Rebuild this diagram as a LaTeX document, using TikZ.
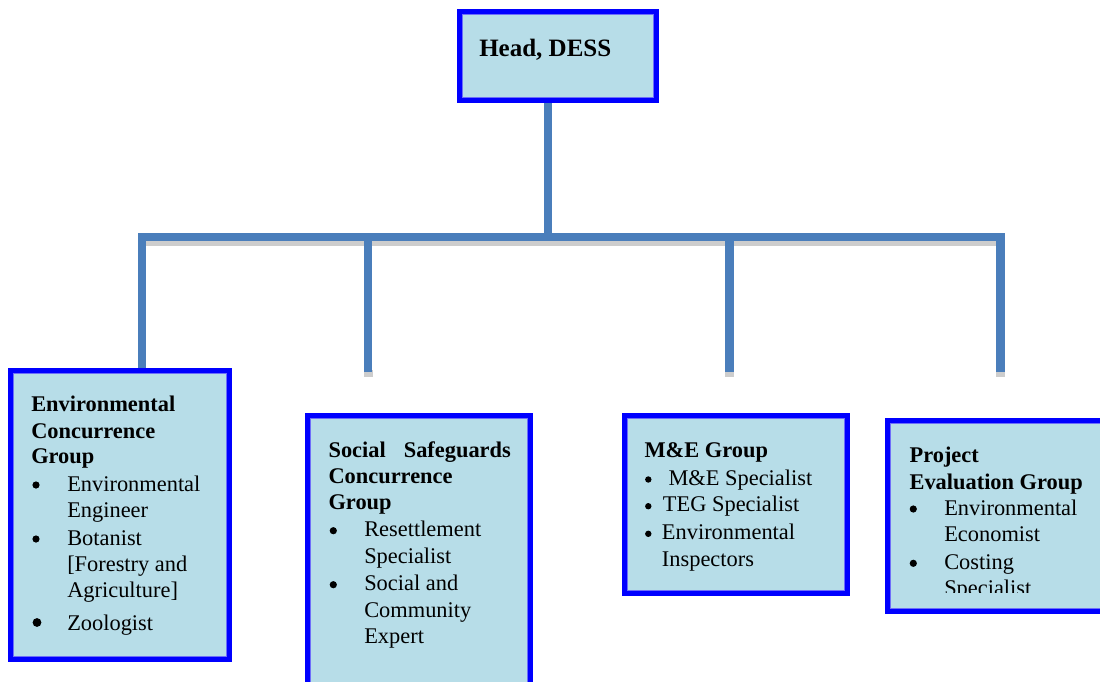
\documentclass[tikz,border=0pt]{standalone}
\usepackage{fontspec}
\setmainfont{Liberation Serif}
\definecolor{boxfill}{RGB}{183,221,232}
\definecolor{boxedge}{RGB}{0,0,255}
\definecolor{boxinner}{RGB}{110,110,250}
\definecolor{connblue}{RGB}{74,126,187}
\definecolor{shadowgray}{RGB}{205,205,205}
\newcommand\innerline[1]{\draw[boxinner,line width=0.6pt] ([xshift=4.3pt,yshift=-4.3pt]#1.north west) rectangle ([xshift=-4.3pt,yshift=4.3pt]#1.south east);}
\tikzset{
  box/.style={draw=boxedge, line width=4pt, fill=boxfill, rectangle, inner sep=0pt},
  ln/.style={inner sep=0pt, anchor=base west, font=\fontsize{16.8pt}{19.5pt}\selectfont},
  hl/.style={inner sep=0pt, anchor=base west, font=\fontsize{16.8pt}{19.5pt}\selectfont\bfseries},
  dot/.style={circle, fill=black, inner sep=0pt, minimum size=5.4pt},
  bigdot/.style={circle, fill=black, inner sep=0pt, minimum size=6.6pt},
  smalldot/.style={circle, fill=black, inner sep=0pt, minimum size=4.8pt},
  conn/.style={draw=connblue, line width=6.4pt, line join=miter},
  shd/.style={fill=shadowgray}
}
\begin{document}
\begin{tikzpicture}[x=0.75pt,y=-0.75pt]
\useasboundingbox (0,0) rectangle (1100,682);
\clip (0,0) rectangle (1100,682);
% connector geometry
\coordinate (hub) at (548,237);
\coordinate (j1) at (142,237);
\coordinate (j2) at (368,237);
\coordinate (j3) at (729.5,237);
\coordinate (j4) at (1000.5,237);
\coordinate (e2) at (368,372);
\coordinate (e3) at (729.5,372);
\coordinate (e4) at (1000.5,372);
% shadows
\fill[shd] (146,241) rectangle (996,246);
\fill[shd] (363.5,370) rectangle (372.5,377);
\fill[shd] (725,370) rectangle (734,377);
\fill[shd] (996,370) rectangle (1005,377);
% boxes
\path (558,56) node[box, minimum width=147.75pt, minimum height=66.75pt] (head) {};
\path (120,515) node[box, minimum width=164.25pt, minimum height=216.75pt] (box1) {};
\path (419,557.75) node[box, minimum width=167.25pt, minimum height=213.375pt] (box2) {};
\path (736,504.5) node[box, minimum width=167.25pt, minimum height=133.5pt] (box3) {};
\path (1003.75,516) node[box, minimum width=174.375pt, minimum height=143.25pt] (box4) {};
\innerline{head}
\innerline{box1}
\innerline{box2}
\innerline{box3}
\innerline{box4}
% connectors
\draw[conn] (head.south -| hub) -- (hub);
\draw[conn] (box1.north -| j1) -- (j1) -- (j4) -- (e4);
\draw[conn] (j2) -- (e2);
\draw[conn] (j3) -- (e3);
% head text
\node[inner sep=0pt, anchor=base west, font=\fontsize{18.75pt}{22pt}\selectfont\bfseries] (th) at (479,56) {Head, DESS};
% box 1 text
\node[hl] (a1) at (31,411.7) {Environmental};
\node[hl] (a2) at (31,438.3) {Concurrence};
\node[hl] (a3) at (31,463.3) {Group};
\node[dot] (ab1) at (36,485) {};
\node[ln] (a4) at (67,491) {Environmental};
\node[ln] (a5) at (67,517.3) {Engineer};
\node[dot] (ab2) at (36,539) {};
\node[ln] (a6) at (67,545) {Botanist};
\node[ln] (a7) at (67,571) {[Forestry and};
\node[ln] (a8) at (67,597.3) {Agriculture]};
\node[bigdot] (ab3) at (37,622.5) {};
\node[ln] (a9) at (67,630) {Zoologist};
% box 2 text
\node[hl] (b1) at (328.3,457.3) {Social\hspace{13.5pt}Safeguards};
\node[hl] (b2) at (328.3,483.3) {Concurrence};
\node[hl] (b3) at (328.3,509.3) {Group};
\node[dot] (bb1) at (333.3,530.7) {};
\node[ln] (b4) at (364,536.7) {Resettlement};
\node[ln] (b5) at (364,563.3) {Specialist};
\node[dot] (bb2) at (333.3,584.7) {};
\node[ln] (b6) at (364,590.7) {Social and};
\node[ln] (b7) at (364,617.3) {Community};
\node[ln] (b8) at (364,643) {Expert};
% box 3 text
\node[hl] (c1) at (644.3,457.3) {M\&E Group};
\node[smalldot] (cb1) at (648.3,479.5) {};
\node[ln] (c2) at (668.3,485) {M\&E Specialist};
\node[smalldot] (cb2) at (648.3,506.2) {};
\node[ln] (c3) at (662.7,511.7) {TEG Specialist};
\node[smalldot] (cb3) at (648.3,533.8) {};
\node[ln] (c4) at (661.7,539.3) {Environmental};
\node[ln] (c5) at (661.7,566) {Inspectors};
% box 4 text
\node[hl] (d1) at (909.3,462.7) {Project};
\node[hl] (d2) at (909.3,489) {Evaluation Group};
\node[dot] (db1) at (913.3,509) {};
\node[ln] (d3) at (944,515) {Environmental};
\node[ln] (d4) at (944,541.7) {Economist};
\node[dot] (db2) at (913.3,563.3) {};
\node[ln] (d5) at (944,569.3) {Costing};
\begin{scope}
\clip (930,570) rectangle (1090,592.7);
\node[ln] (d6) at (944,595.6) {Specialist};
\end{scope}
\end{tikzpicture}
\end{document}
